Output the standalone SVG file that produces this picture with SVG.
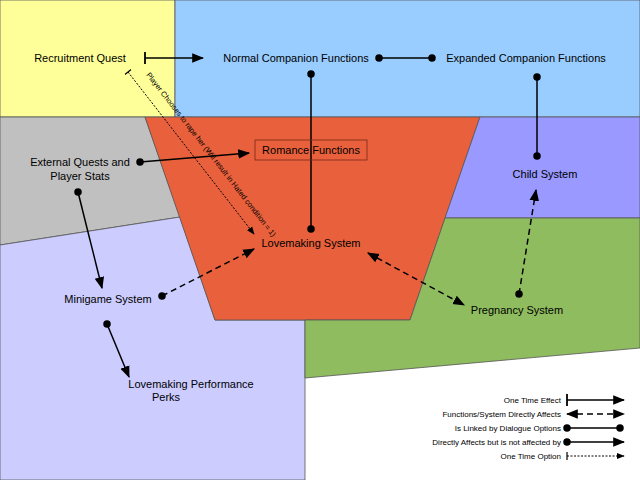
<svg xmlns="http://www.w3.org/2000/svg" width="640" height="480" viewBox="0 0 640 480">
<defs>
<style>
text{font-family:"Liberation Sans",Arial,sans-serif;font-size:11px;fill:#000}
.r{stroke:#555;stroke-width:0.8}
.c{stroke:#000;stroke-width:1.5;fill:none}
.d{stroke-dasharray:6,4}
.o{stroke-dasharray:2,1.5;stroke-width:1}
.lg{font-size:8px}
</style>
<marker id="a" viewBox="0 0 10 10" refX="9" refY="5" markerWidth="8" markerHeight="8" orient="auto"><path d="M0,1 L10,5 L0,9 z" fill="#000"/></marker>
<marker id="as" viewBox="0 0 10 10" refX="1" refY="5" markerWidth="8" markerHeight="8" orient="auto"><path d="M10,1 L0,5 L10,9 z" fill="#000"/></marker>
<marker id="dt" viewBox="0 0 10 10" refX="5" refY="5" markerWidth="5" markerHeight="5"><circle cx="5" cy="5" r="5" fill="#000"/></marker>
<marker id="bar" viewBox="0 0 4 10" refX="2" refY="5" markerWidth="4" markerHeight="8" orient="auto"><path d="M2,0 V10" stroke="#000" stroke-width="1.5"/></marker>
</defs>
<rect width="640" height="480" fill="#fff"/>
<g id="regions">
<rect class="r" x="0" y="0" width="175" height="117" fill="#ffff99"/>
<rect class="r" x="175" y="0" width="465" height="117" fill="#99ccff"/>
<polygon class="r" points="0,117 145,117 180,217 0,245" fill="#c0c0c0"/>
<polygon class="r" points="0,245 180,217 215,320 305,320 305,480 0,480" fill="#ccccff"/>
<polygon class="r" points="145,117 480,117 410,320 215,320" fill="#e8603c"/>
<polygon class="r" points="480,117 640,117 640,218 445,218" fill="#9999ff"/>
<polygon class="r" points="445,218 640,218 640,348 305,378 305,320 410,320" fill="#8fbc5f"/>
</g>
<g id="connectors">
<line class="c" x1="145" y1="58" x2="203" y2="58" marker-start="url(#bar)" marker-end="url(#a)"/>
<line class="c" x1="379" y1="58" x2="432" y2="58" marker-start="url(#dt)" marker-end="url(#dt)"/>
<line class="c" x1="311" y1="74" x2="311" y2="229" marker-start="url(#dt)" marker-end="url(#dt)"/>
<line class="c" x1="537" y1="77" x2="537" y2="156" marker-start="url(#dt)" marker-end="url(#dt)"/>
<line class="c" x1="140" y1="162" x2="249" y2="153" marker-start="url(#dt)" marker-end="url(#a)"/>
<line class="c" x1="78" y1="192" x2="102" y2="288" marker-start="url(#dt)" marker-end="url(#a)"/>
<line class="c d" x1="162" y1="296" x2="254" y2="249" marker-start="url(#dt)" marker-end="url(#a)"/>
<line class="c d" x1="368" y1="253" x2="464" y2="305" marker-start="url(#as)" marker-end="url(#a)"/>
<line class="c d" x1="519" y1="294" x2="536" y2="190" marker-start="url(#dt)" marker-end="url(#a)"/>
<line class="c" x1="107" y1="324" x2="129" y2="377" marker-start="url(#dt)" marker-end="url(#a)"/>
<line class="c o" x1="128" y1="72" x2="254" y2="234" marker-start="url(#bar)" marker-end="url(#a)"/>
<text transform="translate(146,75) rotate(52.1)" style="font-size:7.5px">Player Chooses to rape her (Will result in Hated condition = 1)</text>
</g>
<g id="nodes">
<g id="n1"><text x="80" y="62" text-anchor="middle">Recruitment Quest</text></g>
<g id="n2"><text x="296" y="62" text-anchor="middle">Normal Companion Functions</text></g>
<g id="n3"><text x="526" y="62" text-anchor="middle">Expanded Companion Functions</text></g>
<g id="n4"><text x="80" y="166" text-anchor="middle">External Quests and</text><text x="80" y="180" text-anchor="middle">Player Stats</text></g>
<g id="n5"><rect x="255" y="140" width="112" height="20" fill="none" stroke="#7a2a1a" stroke-width="0.8"/><text x="311" y="154" text-anchor="middle">Romance Functions</text></g>
<g id="n6"><text x="545" y="178" text-anchor="middle">Child System</text></g>
<g id="n7"><text x="311" y="247" text-anchor="middle">Lovemaking System</text></g>
<g id="n8"><text x="108" y="303" text-anchor="middle">Minigame System</text></g>
<g id="n9"><text x="517" y="314" text-anchor="middle">Pregnancy System</text></g>
<g id="n10"><text x="191" y="388" text-anchor="middle">Lovemaking Performance</text><text x="166" y="401" text-anchor="middle">Perks</text></g>
</g>
<g id="legend">
<text class="lg" x="561" y="403" text-anchor="end">One Time Effect</text>
<line class="c" x1="567" y1="400" x2="624" y2="400" stroke-width="1" marker-start="url(#bar)" marker-end="url(#a)"/>
<text class="lg" x="561" y="417" text-anchor="end">Functions/System Directly Affects</text>
<line class="c d" x1="567" y1="414" x2="624" y2="414" stroke-width="1" marker-start="url(#as)" marker-end="url(#a)"/>
<text class="lg" x="561" y="431" text-anchor="end">Is Linked by Dialogue Options</text>
<line class="c" x1="567" y1="428" x2="620" y2="428" stroke-width="1" marker-start="url(#dt)" marker-end="url(#dt)"/>
<text class="lg" x="561" y="445" text-anchor="end">Directly Affects but is not affected by</text>
<line class="c" x1="567" y1="442" x2="624" y2="442" stroke-width="1" marker-start="url(#dt)" marker-end="url(#a)"/>
<text class="lg" x="561" y="459" text-anchor="end">One Time Option</text>
<line class="c o" x1="567" y1="456" x2="624" y2="456" marker-start="url(#bar)" marker-end="url(#a)"/>
</g>
</svg>
